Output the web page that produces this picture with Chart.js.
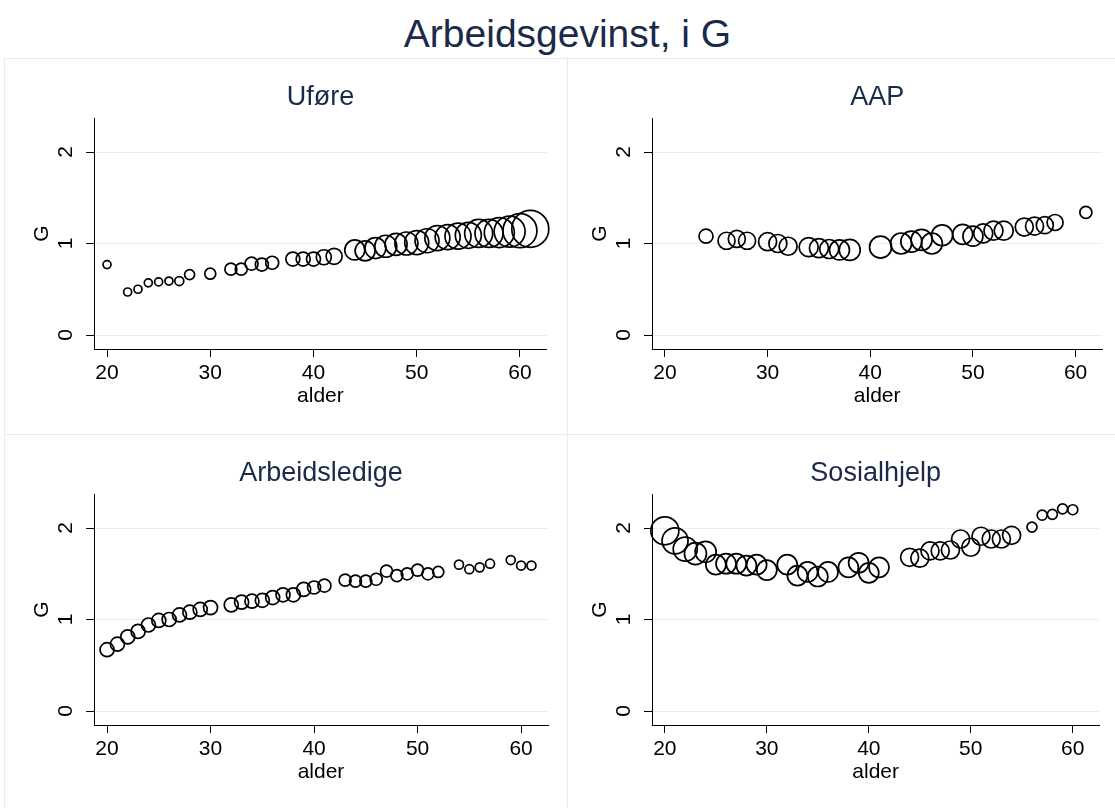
<!DOCTYPE html>
<html>
<head>
<meta charset="utf-8">
<script src="https://cdn.jsdelivr.net/npm/chart.js@4"></script>
<style>
  body { margin: 0; background: #fff; width: 1115px; height: 808px; overflow: hidden; position: relative; font-family: "Liberation Sans", Arial, sans-serif; }
  .maintitle { position: absolute; left: 0; top: 14px; width: 1135px; text-align: center; font-size: 39px; line-height: 39px; color: #1b2a4a; }
  .line { position: absolute; background: #ebebeb; }
  canvas { position: absolute; }
</style>
</head>
<body>
<div class="maintitle">Arbeidsgevinst, i G</div>
<div class="line" style="left:4px;top:58px;width:1111px;height:1px"></div>
<div class="line" style="left:4px;top:434px;width:1111px;height:1px"></div>
<div class="line" style="left:4px;top:58px;width:1px;height:750px"></div>
<div class="line" style="left:567px;top:58px;width:1px;height:750px"></div>
<canvas id="c1" width="563" height="376" style="left:4px;top:58px"></canvas>
<canvas id="c2" width="553" height="376" style="left:562px;top:58px"></canvas>
<canvas id="c3" width="563" height="376" style="left:4px;top:434px"></canvas>
<canvas id="c4" width="553" height="376" style="left:562px;top:434px"></canvas>
<script>
// tick labels
const xTicks = [20, 30, 40, 50, 60]
const yTicks = [0, 1, 2]

// Uføre
const uforeAge = [20, 22, 23, 24, 25, 26, 27, 28, 30, 32, 33, 34, 35, 36, 38, 39, 40, 41, 42, 44, 45, 46, 47, 48, 49, 50, 51, 52, 53, 54, 55, 56, 57, 58, 59, 60, 61]
const uforeG = [0.77, 0.47, 0.50, 0.57, 0.58, 0.59, 0.59, 0.66, 0.67, 0.72, 0.72, 0.78, 0.77, 0.79, 0.83, 0.83, 0.83, 0.85, 0.86, 0.93, 0.92, 0.95, 0.97, 0.99, 1.00, 1.01, 1.03, 1.06, 1.07, 1.08, 1.09, 1.11, 1.11, 1.12, 1.13, 1.14, 1.16]
const uforeSize = [4, 4, 4, 4, 4, 4, 4.5, 5, 5.5, 6, 6, 6.5, 6.5, 6.5, 7, 7, 7, 7.5, 8, 10, 10, 10.5, 11, 11, 11.5, 12, 12, 12.5, 12.5, 13, 13, 14, 14, 15, 15.5, 17, 18.5]

// AAP
const aapAge = [24, 26, 27, 28, 30, 31, 32, 34, 35, 36, 37, 38, 41, 43, 44, 45, 46, 47, 49, 50, 51, 52, 53, 55, 56, 57, 58, 61]
const aapG = [1.08, 1.03, 1.05, 1.03, 1.02, 1.00, 0.97, 0.96, 0.95, 0.94, 0.93, 0.93, 0.96, 1.00, 1.02, 1.04, 1.00, 1.09, 1.10, 1.08, 1.11, 1.14, 1.14, 1.18, 1.19, 1.20, 1.23, 1.34]
const aapSize = [7, 8.5, 8.5, 8.5, 9, 9, 9, 9.5, 9.5, 9.5, 10, 10.5, 11, 10.5, 10.5, 10.5, 10.5, 10.5, 10, 10, 9.5, 9.5, 9.5, 9, 9, 8.5, 8, 6]

// Arbeidsledige
const ledigAge = [20, 21, 22, 23, 24, 25, 26, 27, 28, 29, 30, 32, 33, 34, 35, 36, 37, 38, 39, 40, 41, 43, 44, 45, 46, 47, 48, 49, 50, 51, 52, 54, 55, 56, 57, 59, 60, 61]
const ledigG = [0.67, 0.73, 0.81, 0.87, 0.94, 0.99, 1.00, 1.05, 1.08, 1.11, 1.13, 1.16, 1.19, 1.20, 1.21, 1.24, 1.27, 1.27, 1.33, 1.35, 1.37, 1.43, 1.42, 1.42, 1.44, 1.53, 1.48, 1.50, 1.54, 1.50, 1.52, 1.60, 1.55, 1.57, 1.61, 1.65, 1.59, 1.59]
const ledigSize = [7, 7, 7, 7, 7, 7, 7, 7, 7, 7, 7, 7, 7, 7, 7, 7, 7, 7, 7, 6.5, 6.5, 6, 6, 6, 6, 6, 6, 6, 6, 6, 5.5, 4.5, 4.5, 4.5, 4.5, 4.5, 4.5, 4.5]

// Sosialhjelp
const sosAge = [20, 21, 22, 23, 24, 25, 26, 27, 28, 29, 30, 32, 33, 34, 35, 36, 38, 39, 40, 41, 44, 45, 46, 47, 48, 49, 50, 51, 52, 53, 54, 56, 57, 58, 59, 60]
const sosG = [1.97, 1.86, 1.77, 1.72, 1.74, 1.60, 1.61, 1.61, 1.59, 1.60, 1.54, 1.60, 1.48, 1.52, 1.47, 1.52, 1.57, 1.62, 1.51, 1.57, 1.68, 1.67, 1.75, 1.75, 1.76, 1.88, 1.79, 1.91, 1.88, 1.88, 1.92, 2.01, 2.14, 2.15, 2.21, 2.20]
const sosSize = [14, 13, 12, 11, 10.5, 10, 10, 10, 10, 10, 10, 10, 10, 10, 10, 10, 10, 10, 10, 10, 9, 9, 9, 9, 9, 9, 9, 9, 9, 9, 9, 5, 5, 5, 5, 5]

const FONT = '"Liberation Sans", Arial, sans-serif'

function build_panel(id, title, ages, vals, sizes, padRight) {
    const points = ages.map((a, i) => ({x: a, y: vals[i], r: sizes[i]}))
    const config = {
        type: 'bubble',
        data: {
            datasets: [{
                data: points,
                backgroundColor: 'rgba(0,0,0,0)',
                borderColor: '#000',
                borderWidth: 1.7,
                hoverBorderWidth: 1.7,
                clip: false
            }]
        },
        options: {
            responsive: false,
            animation: false,
            events: [],
            layout: {padding: {top: 0, right: padRight, bottom: 0, left: 0}},
            plugins: {
                legend: {display: false},
                tooltip: {enabled: false},
                title: {
                    display: true,
                    text: title,
                    fullSize: false,
                    color: '#1b2a4a',
                    font: {family: FONT, size: 27, weight: 'normal'},
                    padding: {top: 23, bottom: 4.6}
                }
            },
            scales: {
                x: {
                    type: 'linear',
                    min: 18.74,
                    max: 62.6,
                    afterBuildTicks: s => { s.ticks = xTicks.map(v => ({value: v})) },
                    afterFit: s => { s.height = 85 },
                    grid: {drawOnChartArea: false, tickColor: '#000', tickLength: 8},
                    border: {color: '#000', width: 1},
                    ticks: {color: '#000', font: {family: FONT, size: 21}, padding: 4, maxRotation: 0},
                    title: {display: true, text: 'alder', color: '#000', font: {family: FONT, size: 21}, padding: {top: 0, bottom: 25.4}}
                },
                y: {
                    type: 'linear',
                    min: -0.153,
                    max: 2.372,
                    afterBuildTicks: s => { s.ticks = yTicks.map(v => ({value: v})) },
                    afterFit: s => { s.width = 90 },
                    grid: {color: '#e8eef2', tickColor: '#000', tickLength: 8},
                    border: {color: '#000', width: 1},
                    ticks: {color: '#000', font: {family: FONT, size: 21}, padding: 14, minRotation: 90, maxRotation: 90, crossAlign: 'center'},
                    title: {display: true, text: 'G', color: '#000', font: {family: FONT, size: 21}, padding: {top: 25.2, bottom: 0}}
                }
            }
        }
    }
    return new Chart(document.getElementById(id), config)
}

build_panel('c1', 'Uføre', uforeAge, uforeG, uforeSize, 19)
build_panel('c2', 'AAP', aapAge, aapG, aapSize, 9)
build_panel('c3', 'Arbeidsledige', ledigAge, ledigG, ledigSize, 19)
build_panel('c4', 'Sosialhjelp', sosAge, sosG, sosSize, 9)
</script>
</body>
</html>
